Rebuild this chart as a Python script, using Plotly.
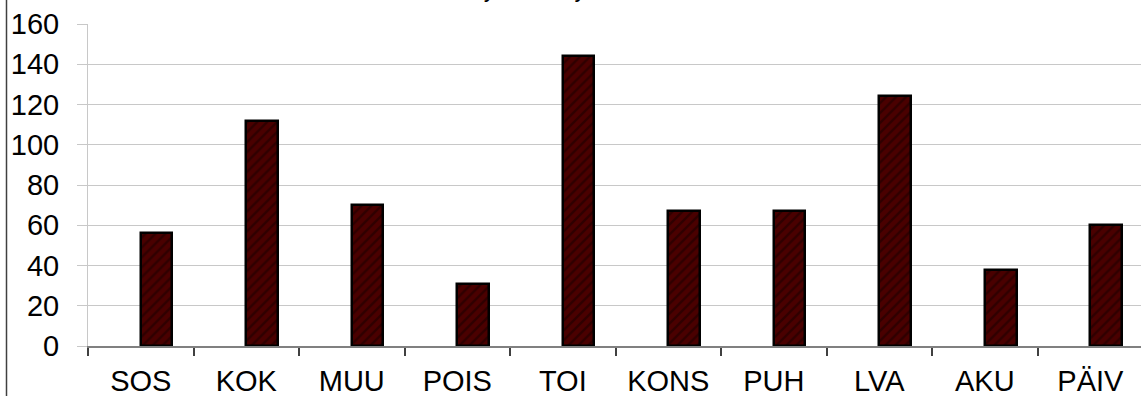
import plotly.graph_objects as go

# Käynnit yksiköittäin
units = ["SOS", "KOK", "MUU", "POIS", "TOI", "KONS", "PUH", "LVA", "AKU", "PÄIV"]
visits = [56, 112, 70, 31, 144, 67, 67, 124, 38, 60]
y_ticks = [0, 20, 40, 60, 80, 100, 120, 140, 160]
title_text = "Käyntimäärät yksiköittäin"

W, H = 1141, 396
M_L, M_R, M_T, M_B = 88, 0, 24, 50
plot_w = W - M_L - M_R
plot_h = H - M_T - M_B

FONT = "Liberation Sans, Arial, sans-serif"

fig = go.Figure()
fig.add_trace(go.Bar(
    x=units,
    y=visits,
    width=0.30,
    offset=0,
    marker=dict(
        color="#4a0000",
        line=dict(color="#000000", width=2.5),
        pattern=dict(shape="/", fgcolor="#140000", bgcolor="#4a0000",
                     size=7, solidity=0.35),
    ),
    hoverinfo="x+y",
))

fig.update_layout(
    width=W, height=H,
    margin=dict(l=M_L, r=M_R, t=M_T, b=M_B, pad=0, autoexpand=False),
    paper_bgcolor="white", plot_bgcolor="white",
    showlegend=False,
    bargap=0,
    font=dict(family=FONT, size=29, color="#000000"),
    xaxis=dict(
        type="category",
        categoryorder="array", categoryarray=units,
        range=[-0.5, 9.48],
        showgrid=False,
        showline=True, linecolor="#808080", linewidth=1.5,
        ticks="outside", tickson="boundaries", ticklen=8,
        tickcolor="#404040", tickwidth=1.5,
        tickfont=dict(family=FONT, size=29, color="#000000"),
        ticklabelstandoff=8,
        zeroline=False,
        automargin=False,
    ),
    yaxis=dict(
        range=[0, 160],
        tickmode="array",
        tickvals=y_ticks,
        showgrid=True, gridcolor="#c8c8c8", gridwidth=1,
        showline=True, linecolor="#c8c8c8", linewidth=1,
        ticks="outside", ticklen=10, tickcolor="#c8c8c8", tickwidth=1,
        tickfont=dict(family=FONT, size=29, color="#000000"),
        ticklabelstandoff=12,
        zeroline=False,
        automargin=False,
    ),
    annotations=[dict(
        text="<b>" + title_text + "</b>",
        xref="paper", yref="paper",
        x=(565 - M_L) / plot_w, y=(plot_h + M_T - 4) / plot_h,
        xanchor="center", yanchor="bottom",
        showarrow=False, borderpad=0,
        font=dict(family=FONT, size=17, color="#000000"),
    )],
    shapes=[dict(
        type="line", xref="paper", yref="paper",
        x0=(6.5 - M_L) / plot_w, x1=(6.5 - M_L) / plot_w,
        y0=-(M_B + 6) / plot_h, y1=(plot_h + M_T + 6) / plot_h,
        line=dict(color="#404040", width=1.5),
    )],
)

fig.write_html("out.html")
